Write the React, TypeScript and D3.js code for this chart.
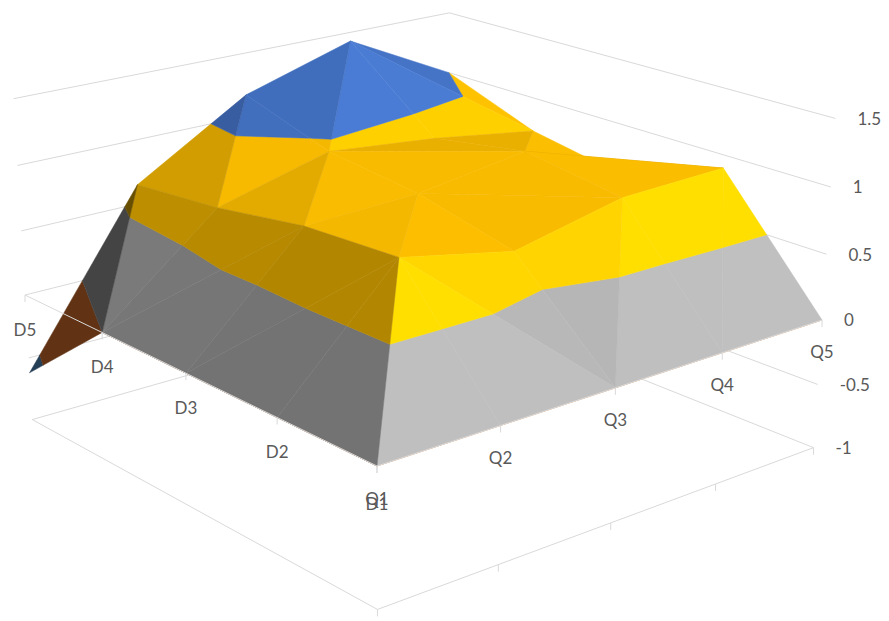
import React from "react";
import * as d3 from "d3";

// Categories and grid values of the surface; each row is one D category across Q1..Q5.
const dLabels = ["D1", "D2", "D3", "D4", "D5"];
const qLabels = ["Q1", "Q2", "Q3", "Q4", "Q5"];
const d1Values = [0, 0, 0, 0, 0];
const d2Values = [0, 0.88, 0.7, 0.88, 0.9];
const d3Values = [0, 0.84, 0.87, 0.99, 0.6];
const d4Values = [0, 0.72, 0.95, 0.86, 0.73];
const d5Values = [-0.62, 0.65, 1.17, 1.43, 1.0];
const surface = [d1Values, d2Values, d3Values, d4Values, d5Values];

const zTicks = [-1, -0.5, 0, 0.5, 1, 1.5];
const bandColors = ["#5B9BD5", "#ED7D31", "#A5A5A5", "#FFC000", "#4472C4"];

// Diagonal used to split each grid cell: "a" joins (i,j)-(i+1,j+1), "b" joins (i+1,j)-(i,j+1).
const cellSplits = [
  ["a", "b", "a", "a"],
  ["b", "a", "b", "b"],
  ["b", "a", "b", "a"],
  ["a", "a", "a", "b"],
];

const WIDTH = 889;
const HEIGHT = 621;

type P3 = { i: number; j: number; z: number };

const uScale = d3.scaleLinear().domain([0, dLabels.length - 1]).range([0, 1]);
const vScale = d3.scaleLinear().domain([0, qLabels.length - 1]).range([0, 1]);

// Perspective camera expressed as a homogeneous transform of (u, v, z).
function project(u: number, v: number, z: number): [number, number] {
  const w = 1 + 0.1877 * u + 0.1535 * v - 0.02355 * z;
  const x = (377 - 347.3 * u + 571.2 * v - 9.37 * z) / w;
  const y = (466 - 115.6 * u - 96.9 * v - 157.8 * z) / w;
  return [x, y];
}

const projectGrid = (p: P3) => project(uScale(p.i), vScale(p.j), p.z);

// Keeps the part of a polygon on one side of a height.
function clipAt(poly: P3[], level: number, keepAbove: boolean): P3[] {
  const out: P3[] = [];
  const inside = (p: P3) => (keepAbove ? p.z >= level : p.z <= level);
  poly.forEach((a, k) => {
    const b = poly[(k + 1) % poly.length];
    if (inside(a)) out.push(a);
    if (inside(a) !== inside(b)) {
      const t = (level - a.z) / (b.z - a.z);
      out.push({ i: a.i + t * (b.i - a.i), j: a.j + t * (b.j - a.j), z: level });
    }
  });
  return out;
}

// Lighting of a facet from its normal, in cell units: faces turned toward the D1 side
// brighten gently at first, faces turned away darken steadily, tilt along Q tells on steep faces.
function facetShade(a: P3, b: P3, c: P3): number {
  const ux = b.i - a.i, uy = b.j - a.j, uz = b.z - a.z;
  const vx = c.i - a.i, vy = c.j - a.j, vz = c.z - a.z;
  let nx = uy * vz - uz * vy;
  let ny = uz * vx - ux * vz;
  let nz = ux * vy - uy * vx;
  if (nz < 0) { nx = -nx; ny = -ny; nz = -nz; }
  const len = Math.hypot(nx, ny, nz);
  nx /= len; ny /= len; nz /= len;
  const towardFront = nx > 0 ? -0.45 * nx : 0.73 * nx * nx;
  return 0.43 + towardFront + (0.216 * ny * Math.abs(ny)) / 0.66 + 0.548 * nz;
}

function litColor(base: string, k: number): string {
  const c = d3.rgb(base);
  return d3.rgb(Math.min(255, c.r * k), Math.min(255, c.g * k), Math.min(255, c.b * k)).formatHex();
}

// Facets in back-to-front order, each cut along the band boundaries.
function buildFacets() {
  const facets: { d: string; fill: string }[] = [];
  const line = d3.line<P3>().x((p) => projectGrid(p)[0]).y((p) => projectGrid(p)[1]).curve(d3.curveLinearClosed);
  const at = (i: number, j: number): P3 => ({ i, j, z: surface[i][j] });
  for (let i = cellSplits.length - 1; i >= 0; i--) {
    for (let j = cellSplits[i].length - 1; j >= 0; j--) {
      const p00 = at(i, j), p01 = at(i, j + 1), p10 = at(i + 1, j), p11 = at(i + 1, j + 1);
      const tris: P3[][] =
        cellSplits[i][j] === "a"
          ? [[p00, p01, p11], [p00, p10, p11]]
          : [[p10, p11, p01], [p00, p10, p01]];
      tris.forEach((tri) => {
        const shade = facetShade(tri[0], tri[1], tri[2]);
        bandColors.forEach((color, b) => {
          let poly = clipAt(tri, zTicks[b], true);
          if (poly.length) poly = clipAt(poly, zTicks[b + 1], false);
          if (poly.length < 3) return;
          facets.push({ d: line(poly)!, fill: litColor(color, shade) });
        });
      });
    }
  }
  return facets;
}

const gridStroke = "#d9d9d9";
const labelColor = "#595959";
const labelFont = "Lato, 'Open Sans', sans-serif";

export default function App() {
  const path = d3.line<[number, number]>();
  const facets = buildFacets();
  const wallLines = zTicks.map((z) => path([project(1, 0, z), project(1, 1, z), project(0, 1, z)])!);
  const floorLine = path([project(1, 0, -1), project(0, 0, -1), project(0, 1, -1)])!;
  const axisLine = path([project(1, 0, 0), project(0, 0, 0), project(0, 1, 0)])!;

  const dPoints = dLabels.map((_, i) => project(uScale(i), 0, 0));
  const qPoints = qLabels.map((_, j) => project(0, vScale(j), 0));
  const floorTicks = qLabels.map((_, j) => project(0, vScale(j), -1));

  return (
    <svg
      width={WIDTH}
      height={HEIGHT}
      viewBox={`0 0 ${WIDTH} ${HEIGHT}`}
      style={{ position: "absolute", left: 0, top: 0, display: "block", background: "#fff" }}
    >
      <g fill="none" stroke={gridStroke} strokeWidth={1}>
        {wallLines.map((d, k) => (
          <path key={k} d={d} />
        ))}
        <path d={floorLine} />
        {floorTicks.map(([x, y], k) => (
          <line key={k} x1={x} y1={y} x2={x} y2={y + 7} />
        ))}
      </g>

      <g strokeWidth={0.5} strokeLinejoin="round">
        {facets.map((f, k) => (
          <path key={k} d={f.d} fill={f.fill} stroke={f.fill} />
        ))}
      </g>

      <g fill="none" stroke={gridStroke} strokeWidth={1}>
        <path d={axisLine} />
        {[...dPoints, ...qPoints].map(([x, y], k) => (
          <line key={k} x1={x} y1={y} x2={x} y2={y + 7} />
        ))}
      </g>

      <g fontFamily={labelFont} fontSize={17} fill={labelColor}>
        {zTicks.map((z) => {
          const [x, y] = project(0, 1, z);
          return (
            <text key={z} x={x + 22} y={y} dominantBaseline="central">
              {z}
            </text>
          );
        })}
        {dLabels.map((t, i) => (
          <text key={t} x={dPoints[i][0]} y={dPoints[i][1] + (i === 0 ? 37 : 34)} textAnchor="middle" dominantBaseline="central">
            {t}
          </text>
        ))}
        {qLabels.map((t, j) => (
          <text key={t} x={qPoints[j][0]} y={qPoints[j][1] + 32} textAnchor="middle" dominantBaseline="central">
            {t}
          </text>
        ))}
      </g>
    </svg>
  );
}
